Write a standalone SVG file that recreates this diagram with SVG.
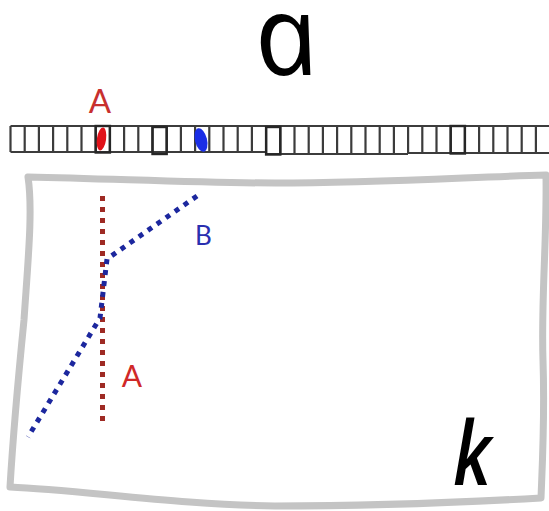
<svg xmlns="http://www.w3.org/2000/svg" width="549" height="511" viewBox="0 0 549 511">
  <style>
    .cellline { stroke: #3c3c3c; stroke-width: 2.2; fill: none; }
    .cellbox { stroke: #262626; stroke-width: 2.4; fill: none; }
    .lbl { font-family: Lato, "Open Sans", "Liberation Sans", sans-serif; }
    .hand { font-family: "Open Sans", "Liberation Sans", sans-serif; fill: #000; }
  </style>
  <rect width="549" height="511" fill="#ffffff"/>

  <!-- big hand-drawn letter above the tape -->
  <g id="symbol-a" transform="translate(262,75) skewX(14)">
    <text class="hand" x="0" y="0" font-size="112" font-style="italic" font-weight="380">a</text>
  </g>

  <!-- label over the marked cell -->
  <g id="label-a-top">
    <text class="lbl" x="100" y="113" font-size="33" fill="#c8302e" text-anchor="middle">A</text>
  </g>

  <!-- the tape: a strip of cells running off the right edge -->
  <g id="tape">
    <line class="cellline" x1="10.5" y1="126" x2="549" y2="126"/>
    <line class="cellline" x1="10.5" y1="152" x2="266" y2="152"/>
    <line class="cellline" x1="266" y1="154" x2="408" y2="154"/>
    <line class="cellline" x1="408" y1="153" x2="549" y2="153"/>
    <path class="cellline" d="M10.5,126V152 M24.7,126V152 M38.9,126V152 M53.1,126V152 M67.3,126V152 M81.5,126V152 M95.7,126V152 M109.9,126V152 M124.1,126V152 M138.3,126V152 M152.5,126V152 M166.7,126V152 M180.9,126V152 M195.1,126V152 M209.3,126V152 M223.5,126V152 M237.7,126V152 M251.9,126V152 M266.1,126V154 M280.3,126V154 M294.5,126V154 M308.7,126V154 M322.9,126V154 M337.1,126V154 M351.3,126V154 M365.5,126V154 M379.7,126V154 M393.9,126V154 M408.1,126V153 M422.3,126V153 M436.5,126V153 M450.7,126V153 M464.9,126V153 M479.1,126V153 M493.3,126V153 M507.5,126V153 M521.7,126V153 M535.9,126V153"/>
    <!-- darker re-drawn cells -->
    <rect class="cellbox" x="95.7" y="126" width="14.2" height="26.5"/>
    <rect class="cellbox" x="152.5" y="127" width="14.2" height="27"/>
    <rect class="cellbox" x="266.1" y="127" width="14.2" height="27.5"/>
    <rect class="cellbox" x="450.7" y="126" width="14.2" height="27.5"/>
    <!-- head positions -->
    <ellipse cx="101.5" cy="139" rx="4.6" ry="11.5" fill="#e0121a" transform="rotate(8 101.5 139)"/>
    <ellipse cx="201" cy="140" rx="6" ry="12" fill="#1a2ee6" transform="rotate(-14 201 140)"/>
  </g>

  <!-- hand-drawn grey frame -->
  <g id="frame">
    <path d="M28,177 C120,179 200,183 275,183 C380,183 470,177 546,175 C547,240 541,300 543,360 C545,420 542,470 541,498 C450,503 360,506 275,506 C180,505 80,490 10,487 C14,420 20,360 24,320 C28,260 33,210 28,177 Z" fill="none" stroke="#c4c4c4" stroke-width="7" stroke-linejoin="round"/>
  </g>

  <!-- dotted traces -->
  <g id="connectors">
    <line x1="102.5" y1="196" x2="102.5" y2="427" stroke="#9e2a24" stroke-width="5" stroke-dasharray="5 6"/>
    <path d="M197,196 L107,259 L100,318 L28,437" fill="none" stroke="#1c279e" stroke-width="5" stroke-dasharray="5 6" stroke-linejoin="round"/>
  </g>

  <g id="label-b">
    <text class="lbl" x="203.5" y="245" font-size="26" fill="#2a2fb0" text-anchor="middle">B</text>
  </g>
  <g id="label-a-bottom">
    <text class="lbl" x="132" y="387" font-size="30" fill="#d02828" text-anchor="middle">A</text>
  </g>

  <!-- big hand-drawn letter in the frame corner -->
  <g id="symbol-k" transform="translate(453,485) scale(0.82,1)">
    <text class="hand" x="0" y="0" font-size="88" font-weight="600" font-style="italic">k</text>
  </g>
</svg>
